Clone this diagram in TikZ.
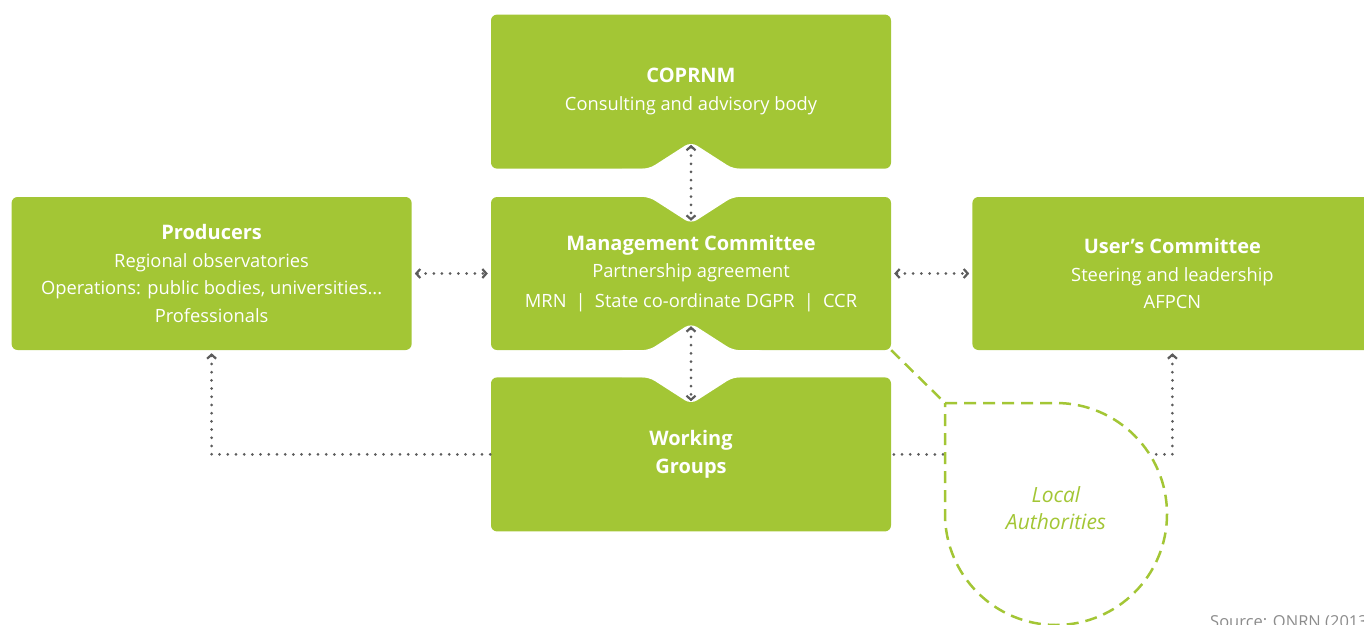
\documentclass[tikz,border=0pt]{standalone}
\usepackage{fontspec}
\setmainfont{Open Sans}
\usetikzlibrary{positioning,calc,arrows.meta}

\definecolor{panelgreen}{RGB}{163,198,53}
\definecolor{linkgray}{RGB}{92,92,92}
\definecolor{notegray}{RGB}{140,140,140}

% white V cut into the top edge of a panel, with a named tip
\newcommand{\notchtop}[2]{%
    \fill[white, rounded corners=7pt] ($(#1)+(-75,10)$) -- ($(#1)+(-75,0)$) -- ($(#1)+(-42,0)$)
        -- ($(#1)+(0,-27)$) -- ($(#1)+(42,0)$) -- ($(#1)+(75,0)$) -- ($(#1)+(75,10)$) -- cycle;
    \coordinate (#2) at ($(#1)+(0,-27)$);
}
% same V cut into the bottom edge
\newcommand{\notchbottom}[2]{%
    \fill[white, rounded corners=7pt] ($(#1)+(-75,-10)$) -- ($(#1)+(-75,0)$) -- ($(#1)+(-42,0)$)
        -- ($(#1)+(0,27)$) -- ($(#1)+(42,0)$) -- ($(#1)+(75,0)$) -- ($(#1)+(75,-10)$) -- cycle;
    \coordinate (#2) at ($(#1)+(0,27)$);
}
\newcommand{\paneltitle}[1]{{\fontsize{20}{27}\selectfont\bfseries #1}}

\tikzset{
    % Green panel
    panel/.style={
        rectangle,
        rounded corners=6pt,
        minimum width=400pt,
        minimum height=153pt,
        inner sep=0pt,
        fill=panelgreen,
        text=white,
        align=center,
        font=\fontsize{18.3}{27.5}\selectfont
    },
    % Dotted two-way link
    link/.style={
        {Straight Barb[length=4pt,width=9pt,line width=2.2pt]}-{Straight Barb[length=4pt,width=9pt,line width=2.2pt]},
        draw=linkgray,
        line width=3pt,
        line cap=round,
        dash pattern=on 0pt off 8.2pt,
        shorten <=3pt,
        shorten >=3pt
    },
    % One-way dotted feedback
    feedback/.style={
        {Straight Barb[length=4pt,width=9pt,line width=2.2pt]}-,
        draw=linkgray,
        line width=3pt,
        line cap=round,
        dash pattern=on 0pt off 8.2pt,
        shorten <=3pt
    },
    % Dashed zone outline
    zone/.style={
        draw=panelgreen,
        line width=2.5pt,
        dash pattern=on 12pt off 7pt
    }
}

\begin{document}
\begin{tikzpicture}[x=1pt, y=1pt]

    \useasboundingbox (0,0) rectangle (1364,-624);

    % ========== PANELS ==========
    \node[panel] (mc) at (691,-273.5) {\paneltitle{Management Committee}\\Partnership agreement\\[2pt]
        MRN\enspace|\enspace State co-ordinate DGPR\enspace|\enspace CCR};
    \node[panel, minimum height=154pt, above=28pt of mc] (coprnm) {\paneltitle{COPRNM}\\Consulting and advisory body};
    \node[panel, left=79pt of mc] (producers) {\paneltitle{Producers}\\Regional observatories\\
        Operations: public bodies, universities...\\Professionals};
    \node[panel, right=81pt of mc] (users) {\paneltitle{User’s Committee}\\Steering and leadership\\AFPCN};
    \node[panel, minimum height=154pt, below=27pt of mc] (wg) {\paneltitle{Working}\\\paneltitle{Groups}};

    % ========== NOTCHES ==========
    \notchbottom{coprnm.south}{coprnm-tip}
    \notchtop{mc.north}{mc-toptip}
    \notchbottom{mc.south}{mc-bottip}
    \notchtop{wg.north}{wg-tip}

    % ========== CONNECTIONS ==========
    \draw[link] (coprnm-tip) -- (mc-toptip);
    \draw[link] (mc-bottip) -- (wg-tip);
    \draw[link] (producers) -- (mc);
    \draw[link] (mc) -- (users);

    \draw[feedback] (producers.south) |- (wg.west);
    \draw[feedback] (users.south) |- (wg.east);

    % ========== LOCAL AUTHORITIES ==========
    \coordinate (la-center) at (1056,-514);
    \coordinate (la-corner) at ($(la-center)+(-111,111)$);
    \fill[white] (la-corner) -- ($(la-corner)+(111,0)$) arc[start angle=90, end angle=-180, radius=111] -- cycle;
    \draw[zone] (la-corner) -- ($(la-corner)+(111,0)$) arc[start angle=90, end angle=-180, radius=111] -- cycle;
    \draw[zone] (mc.south east) -- (la-corner);
    \node[text=panelgreen, align=center, font=\fontsize{21}{27.5}\selectfont\itshape] (la) at ($(la-center)+(0,6)$) {Local\\Authorities};

    % ========== SOURCE ==========
    \node[anchor=base west, inner sep=0pt, text=notegray, font=\fontsize{16.5}{20}\selectfont] (source) at (1210,-627) {Source: ONRN (2013)};

\end{tikzpicture}
\end{document}
